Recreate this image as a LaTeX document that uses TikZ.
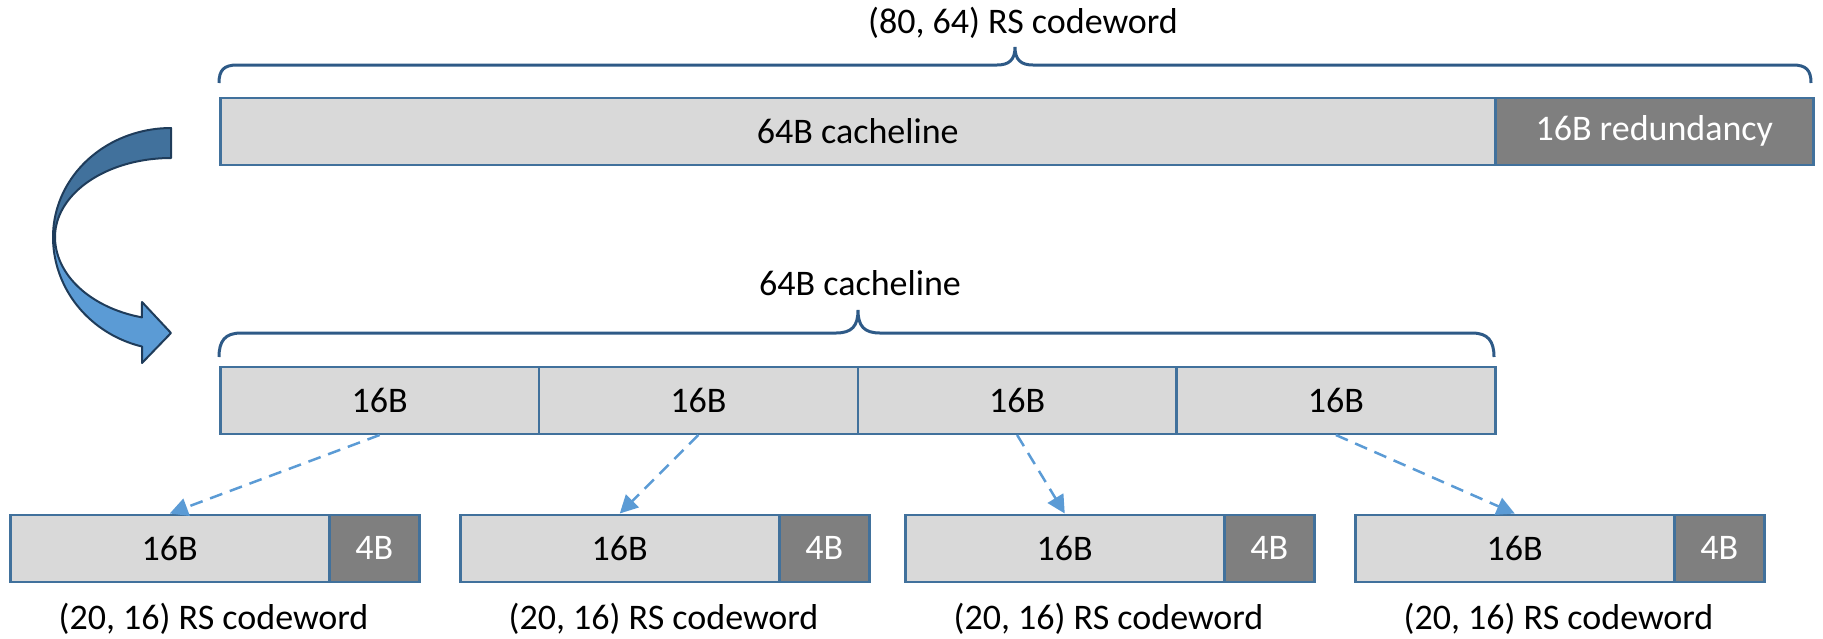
\documentclass[tikz,border=0pt]{standalone}
\usepackage{fontspec}
\setmainfont{Carlito}
\usetikzlibrary{arrows.meta}
\definecolor{bordc}{HTML}{41719C}
\definecolor{lgray}{HTML}{D9D9D9}
\definecolor{dgray}{HTML}{7F7F7F}
\definecolor{bracec}{HTML}{2E5A87}
\definecolor{arrowc}{HTML}{5B9BD5}
\definecolor{darkarr}{HTML}{41719C}
\definecolor{arrline}{HTML}{1F3C5A}
\begin{document}
\begin{tikzpicture}[x=1pt,y=-1pt,
  every node/.style={font=\fontsize{36pt}{43pt}\selectfont},
  cellbox/.style={draw=bordc, line width=2.5pt, fill=lgray, inner sep=0pt, anchor=north west, minimum height=67pt},
  redbox/.style={cellbox, fill=dgray, text=white},
  brc/.style={draw=bracec, line width=3pt},
  darr/.style={draw=arrowc, line width=2.5pt, dash pattern=on 13pt off 8pt, -{Triangle[length=18pt,width=18pt]}},
  lbl/.style={anchor=base, inner sep=0pt},
  bigarr/.style={draw=arrline, line width=2pt, line join=round}]
\useasboundingbox (0,0) rectangle (1823,638);

% curved arrow
\filldraw[bigarr, fill=darkarr] plot[domain=-180:-90, samples=40] ({171+118*cos(\x)},{237+109*sin(\x)}) -- plot[domain=-90:-180, samples=40] ({171+116*cos(\x)},{237+79*sin(\x)}) -- cycle;
\filldraw[bigarr, fill=arrowc] plot[domain=180:104.2, samples=40] ({171+118*cos(\x)},{237+113*sin(\x)}) -- (142,363) -- (171,333) -- (142,302) -- plot[domain=104.5:180, samples=40] ({171+116*cos(\x)},{237+83*sin(\x)}) -- cycle;

% top codeword
\node[cellbox, minimum width=1275pt] (tdata) at (219,96.5) {64B cacheline};
\node[redbox, minimum width=318pt] (tred) at (1494,96.5) {16B redundancy};
\draw[brc] (219,83) .. controls (219,70) and (224,65) .. (237,65) -- (997,65)
  .. controls (1009,65) and (1015,60) .. (1015,47)
  .. controls (1015,60) and (1021,65) .. (1033,65) -- (1793,65)
  .. controls (1806,65) and (1811,70) .. (1811,83);
\node[lbl] (toplbl) at (1023,33) {(80, 64) RS codeword};

% middle cacheline
\foreach \i in {0,...,3}
  \node[cellbox, minimum width=318.75pt] (m\i) at ({219+318.75*\i},365.5) {16B};
\draw[brc] (219,357) .. controls (219,341) and (225,333) .. (241,333) -- (836,333)
  .. controls (852,333) and (858,326) .. (858,310)
  .. controls (858,326) and (864,333) .. (880,333) -- (1472,333)
  .. controls (1488,333) and (1494,341) .. (1494,357);
\node[lbl] (midlbl) at (860,295) {64B cacheline};

% bottom codewords
\foreach \i/\x in {1/9, 2/459, 3/904, 4/1354} {
  \node[cellbox, minimum width=319pt] (d\i) at (\x,513.5) {16B};
  \node[redbox, minimum width=90pt] (r\i) at ({\x+319},513.5) {4B};
  \node[lbl] (l\i) at ({\x+204.5},629) {(20, 16) RS codeword};
}

% dashed arrows
\foreach \i/\j in {0/1,1/2,2/3,3/4}
  \draw[darr] (m\i.south) -- (d\j.north);
\end{tikzpicture}
\end{document}
